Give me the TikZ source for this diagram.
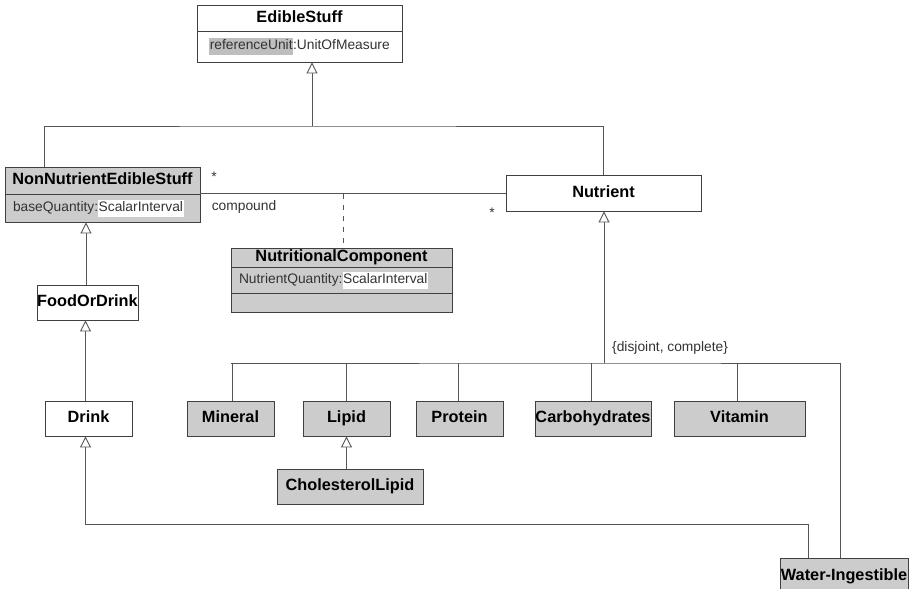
\documentclass[tikz,border=0pt]{standalone}
\usepackage{fontspec}
\setmainfont{Liberation Sans}
\usetikzlibrary{arrows.meta}

\definecolor{umlline}{HTML}{555555}
\definecolor{umlborder}{HTML}{404040}
\definecolor{umlfill}{HTML}{CCCCCC}
\definecolor{umlmark}{HTML}{BEBEBE}
\definecolor{umltext}{HTML}{333333}

% attribute fragment on its own background
\newcommand{\umlhl}[2]{{\setlength{\fboxsep}{0.5pt}\colorbox{#1}{\strut #2}}}

\tikzset{
  classbox/.style={draw=umlborder, line width=0.9pt, inner sep=0pt, align=center,
    text height=12pt, text depth=3.5pt,
    font=\fontsize{16.3}{19}\selectfont\bfseries},
  grey/.style={fill=umlfill},
  attrbox/.style={draw=umlborder, line width=0.9pt, inner ysep=0pt, inner xsep=8pt,
    align=left, text=umltext, font=\fontsize{13.8}{16}\selectfont},
  conn/.style={draw=umlline, line width=0.9pt},
  gen/.style={conn, -{Triangle[length=11pt, width=11pt, fill=white]}},
  lbl/.style={text=umltext, inner sep=0pt, font=\fontsize{13.8}{16}\selectfont},
}

\begin{document}
\begin{tikzpicture}[x=1pt, y=-1pt]
\clip (0,0) rectangle (916,589);
\fill[white] (0,0) rectangle (916,589);

% EdibleStuff
\node[classbox, text width=205pt, minimum height=26pt] (edT) at (299.5,18) {EdibleStuff};
\node[attrbox, align=center, inner xsep=0pt, text width=205pt, minimum height=31pt] (edA) at (299.5,46.5)
  {\umlhl{umlmark}{referenceUnit}:UnitOfMeasure};

% NonNutrientEdibleStuff
\node[classbox, grey, text width=195pt, minimum height=27pt] (nnT) at (102.5,180.5) {NonNutrientEdibleStuff};
\node[attrbox, grey, text width=179pt, minimum height=28pt] (nnA) at (102.5,208)
  {baseQuantity:\umlhl{white}{ScalarInterval}};

% Nutrient
\node[classbox, text width=195pt, minimum height=36pt] (nut) at (603.5,193) {Nutrient};

% NutritionalComponent
\node[classbox, grey, text width=221pt, minimum height=19pt] (ncT) at (341.5,257.5) {NutritionalComponent};
\node[attrbox, grey, text width=205pt, minimum height=26pt] (ncA) at (341.5,280)
  {NutrientQuantity:\umlhl{white}{ScalarInterval}};
\node[classbox, grey, text width=221pt, minimum height=19pt] (ncO) at (341.5,302.5) {};

% FoodOrDrink and Drink
\node[classbox, text width=101pt, minimum height=35pt] (food) at (87.5,302.5) {FoodOrDrink};
\node[classbox, text width=87pt, minimum height=35pt] (drink) at (88.5,418.5) {Drink};

% Nutrient kinds
\node[classbox, grey, text width=87pt, minimum height=35pt] (mineral) at (230.5,418.5) {Mineral};
\node[classbox, grey, text width=87pt, minimum height=35pt] (lipid) at (346.5,418.5) {Lipid};
\node[classbox, grey, text width=87pt, minimum height=35pt] (protein) at (459.5,418.5) {Protein};
\node[classbox, grey, text width=116pt, minimum height=35pt] (carb) at (593,418.5) {Carbohydrates};
\node[classbox, grey, text width=131pt, minimum height=35pt] (vitamin) at (739.5,418.5) {Vitamin};
\node[classbox, grey, text width=146pt, minimum height=35pt] (chol) at (350,486.5) {CholesterolLipid};
\node[classbox, grey, text width=128pt, minimum height=36pt] (water) at (844,576) {Water-Ingestible};

% generalisation to EdibleStuff
\coordinate (genTop) at (312,126);
\draw[conn] ([xshift=40pt]nnT.north west) |- (genTop) -| (nut.north);
\draw[gen] (genTop) -- (genTop |- edA.south);

% compound association with its association class
\draw[conn] (nnA.north east) -- (nnA.north east -| nut.west);
\coordinate (assocMid) at (343,194);
\draw[conn, dash pattern=on 5pt off 6pt] (assocMid) -- (assocMid |- ncT.north);
\node[lbl] (m1) at (214,177) {*};
\node[lbl] (role) at (244,207) {compound};
\node[lbl] (m2) at (492,213) {*};

% FoodOrDrink / Drink hierarchy
\draw[gen] ([xshift=-1.5pt]food.north) -- ([xshift=-1.5pt]food.north |- nnA.south);
\draw[gen] ([xshift=-3pt]drink.north) -- ([xshift=-3pt]drink.north |- food.south);
\coordinate (wbend) at (808,524);
\draw[gen] ([xshift=-36pt]water.north) -- (wbend) -| ([xshift=-3pt]drink.south);

% Nutrient specialisations
\coordinate (nbar) at (604,363);
\draw[gen] (nbar) -- (nbar |- nut.south);
\draw[conn] (mineral.north |- nbar) -- (nbar) -| ([xshift=-4pt]water.north);
\foreach \k/\dx in {mineral/1.5, lipid/0, protein/-1.5, carb/-2, vitamin/-2.5}
  \draw[conn] ([xshift=\dx pt]\k.north) -- ([xshift=\dx pt]\k.north |- nbar);
\node[lbl, anchor=west] (constraint) at (612,348) {\{disjoint, complete\}};

\draw[gen] (chol.north -| lipid.south) -- (lipid.south);
\end{tikzpicture}
\end{document}
